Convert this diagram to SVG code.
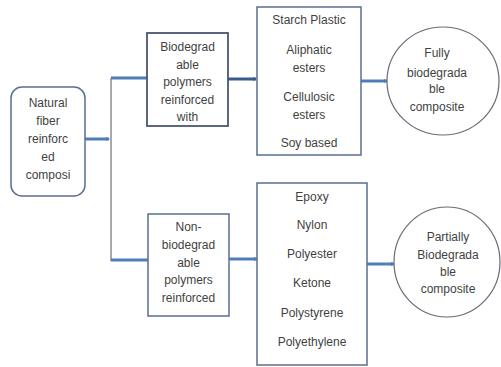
<svg xmlns="http://www.w3.org/2000/svg" width="501" height="367" viewBox="0 0 501 367">
<defs>
<marker id="ah" markerWidth="4" markerHeight="4" refX="3" refY="2" orient="auto" markerUnits="userSpaceOnUse"><path d="M0,0 L4,2 L0,4 z" fill="#4f7db8"/></marker>
<marker id="ahd" markerWidth="4" markerHeight="4" refX="3" refY="2" orient="auto" markerUnits="userSpaceOnUse"><path d="M0,0 L4,2 L0,4 z" fill="#3b5a8c"/></marker>
</defs>
<style>
text{font-family:"Liberation Sans",Arial,sans-serif;font-size:12px;fill:#3f3f3f;text-anchor:middle}
.box{fill:#fff;stroke:#5a6f90;stroke-width:1.5}
.dbox{fill:#fff;stroke:#4a5674;stroke-width:1.8}
.c{stroke:#4f7db8;stroke-width:3;fill:none}
.g{stroke:#8c8c8c;stroke-width:1.5;fill:none}
</style>
<rect width="501" height="367" fill="#fff"/>
<g id="connectors">
<path class="g" d="M111,78 V261"/>
<path class="c" d="M85,139 H109" marker-end="url(#ah)"/>
<path class="c" d="M111,78 H148"/>
<path class="c" d="M111,260 H148"/>
<path d="M228,79 H256" stroke="#3b5a8c" stroke-width="3" fill="none" marker-end="url(#ahd)"/>
<path class="c" d="M361,81 H387" marker-end="url(#ah)"/>
<path class="c" d="M229,259 H257" marker-end="url(#ah)"/>
<path class="c" d="M367,264 H394" marker-end="url(#ah)"/>
</g>
<g id="natural">
<rect class="box" x="11" y="87" width="74" height="109" rx="11"/>
<text x="48" y="107">Natural</text>
<text x="48" y="125">fiber</text>
<text x="48" y="143">reinforc</text>
<text x="48" y="161">ed</text>
<text x="48" y="179">composi</text>
</g>
<g id="biodegradable">
<rect class="dbox" x="147" y="33" width="81" height="93"/>
<text x="187.5" y="51">Biodegrad</text>
<text x="187.5" y="68.5">able</text>
<text x="187.5" y="86">polymers</text>
<text x="187.5" y="104">reinforced</text>
<text x="187.5" y="121">with</text>
</g>
<g id="nonbiodegradable">
<rect class="box" x="148" y="214" width="81" height="102"/>
<text x="188.5" y="231">Non-</text>
<text x="188.5" y="249">biodegrad</text>
<text x="188.5" y="267">able</text>
<text x="188.5" y="284">polymers</text>
<text x="188.5" y="302">reinforced</text>
</g>
<g id="biopolymers">
<rect class="box" x="257" y="7" width="104" height="148"/>
<text x="309" y="24">Starch Plastic</text>
<text x="309" y="54">Aliphatic</text>
<text x="309" y="72">esters</text>
<text x="309" y="101">Cellulosic</text>
<text x="309" y="119">esters</text>
<text x="309" y="147">Soy based</text>
</g>
<g id="nonbiopolymers">
<rect class="box" x="257" y="183" width="110" height="182"/>
<text x="312" y="201">Epoxy</text>
<text x="312" y="229">Nylon</text>
<text x="312" y="258">Polyester</text>
<text x="312" y="287">Ketone</text>
<text x="312" y="317">Polystyrene</text>
<text x="312" y="346">Polyethylene</text>
</g>
<g id="fully">
<ellipse cx="443" cy="81" rx="56" ry="54" fill="#fff" stroke="#6a6a78" stroke-width="1.2"/>
<text x="437" y="57">Fully</text>
<text x="437" y="77">biodegrada</text>
<text x="437" y="93">ble</text>
<text x="437" y="111">composite</text>
</g>
<g id="partially">
<ellipse cx="447" cy="262" rx="53" ry="55" fill="#fff" stroke="#6a6a78" stroke-width="1.2"/>
<text x="448" y="241">Partially</text>
<text x="448" y="259">Biodegrada</text>
<text x="448" y="276">ble</text>
<text x="448" y="293">composite</text>
</g>
</svg>
